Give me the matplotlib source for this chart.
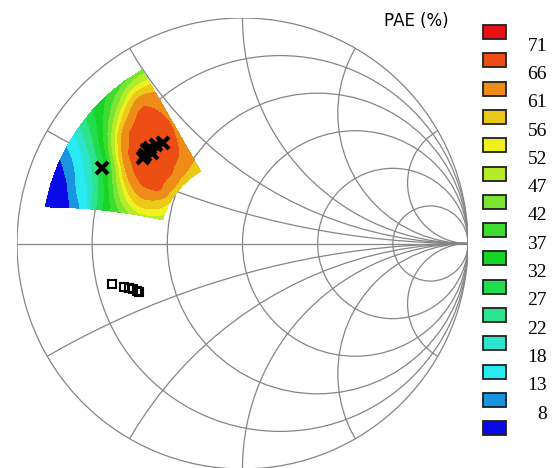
import numpy as np
import matplotlib
matplotlib.use('Agg')
import matplotlib.pyplot as plt
from matplotlib.patches import Circle, Rectangle
import matplotlib.tri as mtri

# colour key: level edges, labels (top to bottom) and colours low -> high
levels = [0, 8, 13, 18, 22, 27, 32, 37, 42, 47, 52, 56, 61, 66, 71, 100]
level_labels = ['71', '66', '61', '56', '52', '47', '42', '37', '32', '27', '22', '18', '13', '8']
colors = ['#0a0ae6', '#1a94e0', '#28eaf0', '#2ce4cc', '#2ce490', '#22dc50', '#18d424',
          '#3cdc30', '#7ce432', '#b4ec28', '#f0f020', '#ecc818', '#ee8c1a', '#ec4e14', '#e81010']

# smith chart grid values
r_vals = [0.2, 0.5, 1, 2, 5]
x_vals = [0.268, 0.577, 1, 1.732, 3.732]

# load-pull points (reflection coefficient)
x_mark_re = [-0.623, -0.441, -0.432, -0.424, -0.410, -0.384, -0.353, -0.401]
x_mark_im = [0.335, 0.379, 0.392, 0.415, 0.424, 0.437, 0.446, 0.401]
sq_re = [-0.577, -0.525, -0.502, -0.487, -0.469, -0.458]
sq_im = [-0.181, -0.192, -0.199, -0.203, -0.209, -0.214]

# swept region: |gamma| rows, phase from 120 deg to the lower edge
rho = [0.37, 0.428, 0.486, 0.543, 0.601, 0.659, 0.717, 0.774, 0.832, 0.89]
phase_lo = 120
phase_hi_inner = 163.5
phase_hi_outer = 169.5

# PAE (%), one row per |gamma|, 9 phases each
pae = [
    [59, 59, 59, 58, 58, 57, 55, 53, 50],
    [61, 62, 63, 65, 65, 65, 61, 56, 51],
    [63, 66, 68, 68, 68, 67, 63, 57, 50],
    [64, 68, 69, 69, 68, 66, 60, 52, 44],
    [65, 69, 69, 69, 67, 61, 50, 42, 37],
    [65, 68, 69, 67, 62, 46, 36, 30, 28],
    [64, 67, 66, 62, 47, 31, 24, 19, 16],
    [61, 64, 58, 47, 34, 23, 17, 13, 9],
    [53, 53, 45, 36, 26, 17, 11, 6, 4],
    [44, 41, 37, 31, 21, 13, 6, 4, 3],
]

Z = np.array(pae, dtype=float)
nr, nt = Z.shape
rr = np.array(rho)
th_hi = phase_hi_inner + (rr - rr[0]) / (rr[-1] - rr[0]) * (phase_hi_outer - phase_hi_inner)
frac = np.linspace(0, 1, nt)
TH = np.radians(phase_lo + frac[None, :] * (th_hi[:, None] - phase_lo))
X = rr[:, None] * np.cos(TH)
Y = rr[:, None] * np.sin(TH)

fig = plt.figure(figsize=(5.58, 4.68), dpi=100)
ax = fig.add_axes([17 / 558, -1 / 468, 451 / 558, 451 / 468])
ax.set_xlim(-1, 1)
ax.set_ylim(-1, 1)
ax.axis('off')

gc = '#858585'
unit = Circle((0, 0), 1, fill=False, ec=gc, lw=0.9)
ax.add_patch(unit)
ax.plot([-1, 1], [0, 0], color=gc, lw=0.9)
for r in r_vals:
    ax.add_patch(Circle((r / (1 + r), 0), 1 / (1 + r), fill=False, ec=gc, lw=0.9))
for x in x_vals:
    for s in (1, -1):
        c = Circle((1, s / x), 1 / x, fill=False, ec=gc, lw=0.9)
        ax.add_patch(c)
        c.set_clip_path(unit)

# triangles on the polar grid, smoothed by matplotlib's refiner
tris = []
for i in range(nr - 1):
    for j in range(nt - 1):
        a = i * nt + j
        tris.append([a, a + 1, a + nt])
        tris.append([a + 1, a + nt + 1, a + nt])
tri = mtri.Triangulation(X.ravel(), Y.ravel(), tris)
z = Z.ravel()
interp = mtri.CubicTriInterpolator(tri, z, kind='geom')
rtri, rz = mtri.UniformTriRefiner(tri).refine_field(z, triinterpolator=interp, subdiv=3)
ax.tricontourf(rtri, np.clip(rz, 0, 70), levels=levels, colors=colors, zorder=2)

ax.plot(x_mark_re, x_mark_im, 'x', color='black', ms=9, mew=3, zorder=4)
ax.plot(sq_re, sq_im, 's', mfc='none', mec='black', ms=6, mew=1.5, zorder=4)

# colour key
lax = fig.add_axes([0, 0, 1, 1])
lax.set_xlim(0, 558)
lax.set_ylim(468, 0)
lax.axis('off')
lax.text(416, 20.5, 'PAE (%)', ha='center', va='center', fontsize=12, family='DejaVu Sans')
for i, col in enumerate(colors[::-1]):
    cy = 32 + 28.3 * i
    lax.add_patch(Rectangle((483, cy - 7), 23, 14, fc=col, ec='#202020', lw=1.3))
for i, lab in enumerate(level_labels):
    lax.text(547, 46.2 + 28.3 * i, lab, ha='right', va='center', fontsize=14,
             family='Liberation Serif')

fig.savefig('out.png', dpi=100)
